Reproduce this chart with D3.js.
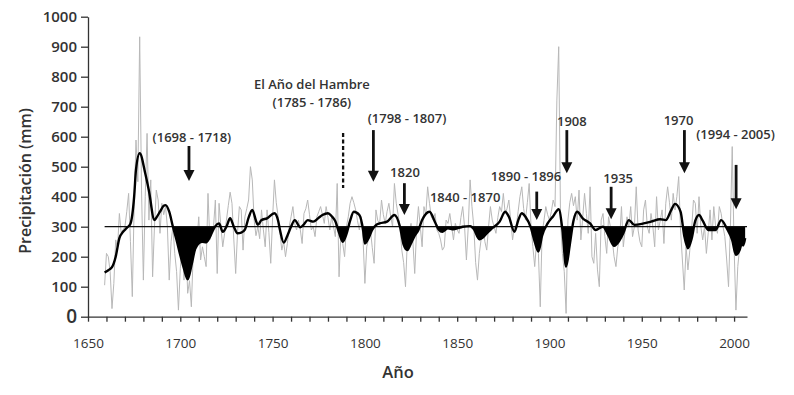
<!DOCTYPE html>
<html><head><meta charset="utf-8">
<script src="https://cdn.jsdelivr.net/npm/d3@7"></script>
<style>
html,body{margin:0;padding:0;background:#fff;}
svg text{font-family:"Open Sans",sans-serif;}
</style></head>
<body><svg id="c" width="794" height="395"></svg>
<script>
// ---- DATA ----
const startYear = 1659;
const annualPrecip = [
105,211,200,150,27,111,256,230,344,278,290,300,350,411,250,67,367,589,450,933,
422,122,400,611,322,456,133,300,422,389,278,378,340,367,300,122,250,300,211,150,
22,160,244,122,256,78,120,33,211,278,250,333,189,233,200,167,411,256,280,300,
389,144,378,300,233,278,322,370,415,378,256,144,280,367,356,222,333,360,389,500,
456,322,270,300,260,356,290,233,356,280,178,330,456,380,333,278,222,250,200,244,
300,333,367,310,289,322,290,244,344,360,389,340,289,300,267,333,350,367,340,311,
367,330,289,333,300,267,444,133,280,244,200,300,333,378,400,380,356,320,289,333,
260,111,233,260,289,230,178,356,320,311,389,340,311,350,378,333,300,444,378,340,
300,222,180,100,256,280,311,250,144,289,367,300,233,367,340,433,378,333,322,344,
289,278,256,222,233,322,311,344,300,256,311,290,278,330,367,300,189,300,456,367,
300,180,122,211,260,300,250,222,300,367,322,300,278,330,367,350,411,344,360,389,
320,256,300,300,350,400,433,360,322,380,444,300,233,167,250,211,33,278,320,367,
340,322,350,389,367,722,900,322,211,150,11,322,380,411,370,400,322,422,256,330,
411,344,278,433,200,178,278,156,100,322,344,267,211,333,300,256,200,167,233,256,
367,233,289,333,300,367,267,300,433,289,250,233,356,389,300,278,344,300,233,400,
289,320,356,244,378,433,380,322,411,356,400,467,289,189,89,233,156,220,289,389,
378,278,400,300,256,300,211,280,356,256,367,300,278,367,344,300,267,189,100,300,
567,233,22,167,230,278,233
];
const smoothYears = [
1659,1661,1663,1665,1667,1669,1671,1673,1675,1676,1678,1681,1683,1686,1687,1689,1691,1692,1694,1696,
1698,1700,1702,1704,1706,1708,1710,1712,1714,1716,1718,1719,1721,1723,1725,1727,1729,1731,1733,1735,
1737,1739,1741,1742,1744,1747,1751,1753,1754,1756,1758,1760,1762,1765,1767,1769,1772,1775,1777,1780,
1782,1784,1786,1788,1790,1792,1794,1797,1799,1800,1802,1804,1806,1808,1812,1816,1819,1821,1823,1825,
1827,1829,1831,1835,1838,1840,1842,1845,1848,1853,1857,1859,1862,1864,1866,1869,1873,1876,1878,1881,
1883,1885,1887,1890,1892,1894,1896,1899,1902,1905,1907,1909,1911,1913,1915,1918,1922,1925,1929,1932,
1935,1938,1940,1943,1946,1951,1955,1960,1963,1966,1968,1971,1973,1975,1977,1979,1981,1983,1986,1990,
1993,1996,1999,2001,2003,2004,2005,2006
];
const smoothPrecip = [
147,155,165,200,262,283,296,310,400,490,545,478,420,322,330,350,370,372,350,300,
255,205,160,125,170,225,245,250,248,265,292,302,311,283,300,328,300,278,280,290,
330,356,320,306,322,328,345,320,289,247,270,300,322,298,308,322,317,330,339,345,
335,318,280,250,275,320,350,339,290,244,262,290,305,311,317,339,300,240,222,245,
270,289,322,350,315,290,283,295,291,300,302,292,258,265,278,295,317,350,333,283,
320,345,333,295,250,217,270,311,335,358,290,167,240,320,350,328,311,289,300,270,
236,255,278,322,306,311,317,325,322,356,376,350,270,228,260,320,339,320,289,289,
322,295,255,206,222,240,238,262
];
// periods whose deficit below the reference level is shaded
const droughtStart = [1696,1785,1798,1818,1839,1845,1858,1890,1906,1929,1970,1984,1993];
const droughtEnd   = [1719,1791,1805,1830,1845,1858,1871,1899,1913,1942,1979,1992,2007];
const referenceLevel = 300;
const yTicks = [0,100,200,300,400,500,600,700,800,900,1000];
const xTicks = [1650,1660,1670,1680,1690,1700,1710,1720,1730,1740,1750,1760,1770,1780,1790,1800,
1810,1820,1830,1840,1850,1860,1870,1880,1890,1900,1910,1920,1930,1940,1950,1960,1970,1980,1990,2000];
const xLabelEvery = 50;
const refStart = 1659, refEnd = 2007;
// annotations: text lines (year, value) and arrows (year, from value, to value)
const notes = [
  {lines:["(1698 - 1718)"], year:1706.3, value:582, arrow:{year:1704.7, from:569, to:452}},
  {lines:["El Año del Hambre","(1785 - 1786)"], year:1771.3, value:699, dashed:{year:1788.2, from:612, to:429}},
  {lines:["(1798 - 1807)"], year:1822.8, value:645, arrow:{year:1804.6, from:622, to:450}},
  {lines:["1820"], year:1821.7, value:465, arrow:{year:1821.4, from:445, to:339}},
  {lines:["1840 - 1870"], year:1854.3, value:383},
  {lines:["1890 - 1896"], year:1887.3, value:453, arrow:{year:1893.1, from:417, to:322}},
  {lines:["1908"], year:1912.1, value:636, arrow:{year:1909.4, from:622, to:478}},
  {lines:["1935"], year:1937.2, value:446, arrow:{year:1933.4, from:433, to:325}},
  {lines:["1970"], year:1969.9, value:639, arrow:{year:1973.1, from:622, to:478}},
  {lines:["(1994 - 2005)"], year:2000.8, value:591, arrow:{year:2001.1, from:506, to:358}}
];

// ---- CHART ----
const svg = d3.select("#c");
const x = d3.scaleLinear().domain([1650, 2007]).range([88, 747]);
const y = d3.scaleLinear().domain([0, 1000]).range([316.7, 16.7]);
const ink = "#333";

const annual = annualPrecip.map((v,i)=>({year:startYear+i, v}));
const smooth = smoothYears.map((yr,i)=>({year:yr, v:smoothPrecip[i]}));

// gray annual line
svg.append("path").datum(annual)
  .attr("fill","none").attr("stroke","#b8b8b8").attr("stroke-width",1)
  .attr("d", d3.line().x(d=>x(d.year)).y(d=>y(d.v)));

// fill below reference level, within drought periods
const clip = svg.append("clipPath").attr("id","below");
droughtStart.forEach((s,i) => {
  clip.append("rect").attr("x", x(s)).attr("y", y(referenceLevel))
    .attr("width", x(droughtEnd[i]) - x(s)).attr("height", y(0) - y(referenceLevel));
});
const curve = d3.curveMonotoneX;
svg.append("path").datum(smooth)
  .attr("clip-path","url(#below)")
  .attr("fill","#000")
  .attr("d", d3.area().curve(curve).x(d=>x(d.year)).y0(y(referenceLevel)).y1(d=>y(d.v)));

// reference line
svg.append("line")
  .attr("x1", x(refStart)).attr("x2", x(refEnd))
  .attr("y1", y(referenceLevel)).attr("y2", y(referenceLevel))
  .attr("stroke","#111").attr("stroke-width",1.3);

// smoothed line
svg.append("path").datum(smooth)
  .attr("fill","none").attr("stroke","#000").attr("stroke-width",2.4)
  .attr("stroke-linejoin","round")
  .attr("d", d3.line().curve(curve).x(d=>x(d.year)).y(d=>y(d.v)));

// axes
const xAxis = svg.append("g").attr("transform",`translate(0,${y(0)})`)
  .call(d3.axisBottom(x).tickValues(xTicks).tickSize(5).tickSizeOuter(0)
    .tickFormat(d => d % xLabelEvery === 0 ? d : ""));
xAxis.select(".domain").attr("stroke", ink).attr("stroke-width",1.3);
xAxis.selectAll(".tick line").attr("stroke", ink).attr("stroke-width",1.3);
xAxis.selectAll(".tick text").attr("fill", ink).attr("font-size",13.5).attr("font-weight",500)
  .attr("dy","1.75em").style("font-family","'Open Sans',sans-serif");

const yAxis = svg.append("g").attr("transform",`translate(${x(1650)},0)`)
  .call(d3.axisLeft(y).tickValues(yTicks).tickSize(7).tickSizeOuter(0).tickPadding(4)
    .tickFormat(d3.format("d")));
yAxis.select(".domain").attr("stroke", ink).attr("stroke-width",1.3);
yAxis.selectAll(".tick line").attr("stroke", ink).attr("stroke-width",1.3);
yAxis.selectAll(".tick text").attr("fill", ink).attr("font-weight",600)
  .attr("font-size", d => d === 0 ? 19 : 15)
  .style("font-family","'Open Sans',sans-serif");

// axis titles
svg.append("text").attr("x", 398).attr("y", 378).attr("text-anchor","middle")
  .attr("font-size",16.5).attr("font-weight",600).attr("fill",ink).text("Año");
svg.append("text").attr("transform","translate(31,181) rotate(-90)").attr("text-anchor","middle")
  .attr("font-size",16).attr("font-weight",600).attr("fill",ink).text("Precipitación (mm)");

// annotations
const lineH = 18;
notes.forEach(n => {
  const g = svg.append("g");
  const nL = n.lines.length;
  n.lines.forEach((t,i) => {
    g.append("text").attr("x", x(n.year)).attr("y", y(n.value) - (nL-1-i)*lineH)
      .attr("text-anchor","middle").attr("font-size",13).attr("font-weight",600)
      .attr("fill", ink).text(t);
  });
  if (n.arrow) {
    const ax = x(n.arrow.year), y0 = y(n.arrow.from), y1 = y(n.arrow.to);
    const hh = 11, hw = 5.5;
    g.append("line").attr("x1",ax).attr("x2",ax).attr("y1",y0).attr("y2",y1-hh+1)
      .attr("stroke","#111").attr("stroke-width",2.8);
    g.append("path").attr("fill","#111")
      .attr("d", `M${ax-hw},${y1-hh}L${ax+hw},${y1-hh}L${ax},${y1}Z`);
  }
  if (n.dashed) {
    const ax = x(n.dashed.year);
    g.append("line").attr("x1",ax).attr("x2",ax).attr("y1",y(n.dashed.from)).attr("y2",y(n.dashed.to))
      .attr("stroke","#111").attr("stroke-width",2.3).attr("stroke-dasharray","4,2.5");
  }
});
</script></body></html>
